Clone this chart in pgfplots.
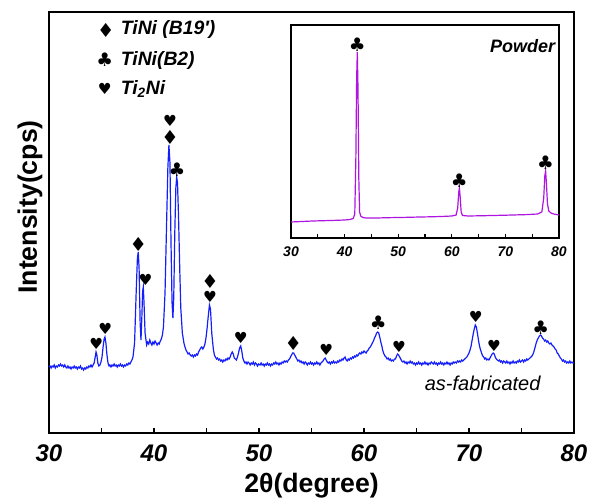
\documentclass[border=0pt]{standalone}
\usepackage{fontspec}
\setmainfont{Liberation Sans}
\newfontfamily\sym{DejaVu Sans}
\usepackage{pgfplots}
\pgfplotsset{compat=1.18}
\usetikzlibrary{calc}

\definecolor{xrdblue}{RGB}{20,30,250}
\definecolor{powder}{RGB}{175,20,225}
\newcommand\dia{{\sym\fontsize{14.5}{14.5}\selectfont ♦}}
\newcommand\clb{{\sym\fontsize{14}{14}\selectfont ♣}}
\newcommand\hrt{{\sym\fontsize{11.5}{11.5}\selectfont ♥}}
\tikzset{mk/.style={inner sep=0pt}}

\begin{document}
\begin{tikzpicture}
\begin{axis}[name=main, scale only axis, width=393.75pt, height=315.75pt,
    xmin=30, xmax=80, ymin=0, ymax=421,
    xtick={30,40,...,80}, minor xtick={35,45,...,75}, xtick pos=bottom,
    ytick=\empty, tick align=inside,
    major tick length=4pt, minor tick length=4pt,
    axis line style={line width=1.4pt}, tick style={line width=1pt, black},
    /pgf/number format/assume math mode=true,
    tick label style={font=\bfseries\itshape\fontsize{18}{18}\selectfont},
    xticklabel style={anchor=center, yshift=-15pt},
    xlabel={\textbf{2θ(degree)}}, ylabel={\textbf{Intensity(cps)}},
    label style={font=\bfseries\fontsize{20}{20}\selectfont},
    xlabel style={at={(axis description cs:0.5,-0.126)}, anchor=center},
    ylabel style={at={(axis description cs:-0.036,0.537)}, anchor=center},
    clip=false]
\addplot[xrdblue, line width=0.9pt] coordinates {
(30.0,66)(30.1,67)(30.2,65)(30.3,67)(30.4,66)(30.5,68)(30.6,65)(30.7,67)(30.8,66)(30.9,68)
(31.0,67)(31.1,69)(31.2,67)(31.3,68)(31.4,66)(31.5,68)(31.6,66)(31.7,65)(31.8,67)(31.9,65)
(32.0,66)(32.1,64)(32.2,66)(32.3,65)(32.4,67)(32.5,65)(32.6,66)(32.7,64)(32.8,66)(32.9,65)
(33.0,67)(33.1,64)(33.2,65)(33.3,63)(33.4,65)(33.5,64)(33.6,66)(33.7,65)(33.8,67)(33.9,66)
(34.0,68)(34.1,66)(34.2,68)(34.3,70)(34.4,76)(34.48,81)(34.56,78)(34.65,70)(34.75,67)(34.85,68)
(34.95,71)(35.05,76)(35.15,86)(35.25,94)(35.33,96)(35.42,90)(35.52,78)(35.62,70)(35.72,67)(35.8,68)
(35.9,66)(36.0,68)(36.1,67)(36.2,69)(36.3,67)(36.4,68)(36.5,66)(36.6,68)(36.7,67)(36.8,69)
(36.9,67)(37.0,68)(37.1,66)(37.2,68)(37.3,67)(37.4,69)(37.5,68)(37.6,70)(37.7,69)(37.8,71)
(37.9,73)(38.0,76)(38.15,90)(38.3,140)(38.42,175)(38.5,181)(38.58,165)(38.68,110)(38.76,93)(38.84,115)
(38.92,142)(38.98,146)(39.05,130)(39.15,100)(39.3,88)(39.4,91)(39.5,89)(39.6,93)(39.7,90)(39.8,88)
(39.9,91)(40.0,89)(40.1,92)(40.2,90)(40.3,88)(40.4,90)(40.5,89)(40.6,92)(40.7,94)(40.8,98)
(40.9,106)(41.05,140)(41.2,210)(41.32,265)(41.42,288)(41.52,270)(41.62,190)(41.72,130)(41.8,115)(41.88,135)
(41.98,200)(42.08,245)(42.16,256)(42.24,250)(42.34,215)(42.45,165)(42.55,125)(42.7,100)(42.85,90)(42.95,86)
(43.05,83)(43.15,81)(43.25,79)(43.35,80)(43.45,78)(43.55,77)(43.65,78)(43.75,76)(43.85,78)(43.95,77)
(44.05,79)(44.15,78)(44.25,81)(44.35,83)(44.45,85)(44.55,86)(44.65,84)(44.75,86)(44.85,89)(44.95,95)
(45.05,104)(45.15,115)(45.28,128)(45.38,124)(45.5,100)(45.65,84)(45.75,78)(45.85,76)(45.95,74)(46.05,75)
(46.15,73)(46.25,74)(46.35,72)(46.45,73)(46.55,71)(46.65,73)(46.75,72)(46.85,74)(46.95,73)(47.05,75)
(47.15,74)(47.25,76)(47.35,79)(47.45,81)(47.55,79)(47.65,75)(47.75,74)(47.85,73)(47.95,76)(48.05,80)
(48.15,85)(48.26,87)(48.36,82)(48.46,75)(48.56,72)(48.66,70)(48.76,71)(48.86,69)(48.96,71)(49.06,70)
(49.16,68)(49.26,70)(49.36,69)(49.46,71)(49.56,68)(49.66,70)(49.76,69)(49.86,67)(49.96,69)(50.1,68)
(50.2,70)(50.3,68)(50.4,69)(50.5,67)(50.6,69)(50.7,68)(50.8,70)(50.9,68)(51.0,69)(51.1,67)
(51.2,69)(51.3,68)(51.4,70)(51.5,69)(51.6,71)(51.7,69)(51.8,70)(51.9,68)(52.0,70)(52.1,69)
(52.2,71)(52.3,70)(52.4,72)(52.5,71)(52.6,72)(52.7,71)(52.8,73)(52.9,74)(53.0,76)(53.1,78)
(53.2,80)(53.3,80)(53.4,78)(53.5,76)(53.6,74)(53.7,72)(53.8,73)(53.9,71)(54.0,72)(54.1,70)
(54.2,71)(54.3,69)(54.4,71)(54.5,70)(54.6,68)(54.7,70)(54.8,69)(54.9,71)(55.0,69)(55.1,70)
(55.2,68)(55.3,70)(55.4,69)(55.5,71)(55.6,69)(55.7,70)(55.8,68)(55.9,70)(56.0,71)(56.1,72)
(56.2,74)(56.3,75)(56.4,73)(56.5,71)(56.6,70)(56.7,71)(56.8,69)(56.9,71)(57.0,70)(57.1,72)
(57.2,70)(57.3,71)(57.4,70)(57.5,72)(57.6,71)(57.7,73)(57.8,72)(57.9,74)(58.0,73)(58.1,75)
(58.2,76)(58.3,73)(58.4,72)(58.5,74)(58.6,73)(58.7,75)(58.8,74)(58.9,76)(59.0,75)(59.1,77)
(59.2,76)(59.3,78)(59.4,77)(59.5,79)(59.6,80)(59.7,79)(59.8,81)(59.9,80)(60.0,82)(60.1,81)
(60.2,80)(60.3,82)(60.4,83)(60.5,85)(60.6,86)(60.7,88)(60.8,90)(60.9,92)(61.0,95)(61.1,97)
(61.2,100)(61.3,101)(61.4,100)(61.5,96)(61.6,91)(61.7,87)(61.8,82)(61.9,79)(62.0,77)(62.1,76)
(62.2,74)(62.3,75)(62.4,73)(62.5,74)(62.6,72)(62.7,73)(62.8,72)(62.9,74)(63.0,74)(63.1,77)
(63.2,79)(63.3,78)(63.4,76)(63.5,74)(63.6,72)(63.7,71)(63.8,72)(63.9,70)(64.0,71)(64.1,69)
(64.2,71)(64.3,70)(64.4,72)(64.5,70)(64.6,71)(64.7,69)(64.8,70)(64.9,68)(65.0,70)(65.1,69)
(65.2,71)(65.3,69)(65.4,70)(65.5,68)(65.6,70)(65.7,69)(65.8,71)(65.9,69)(66.0,70)(66.1,68)
(66.2,70)(66.3,69)(66.4,71)(66.5,70)(66.6,69)(66.7,71)(66.8,69)(66.9,70)(67.0,68)(67.1,70)
(67.2,69)(67.3,71)(67.4,69)(67.5,70)(67.6,68)(67.7,70)(67.8,69)(67.9,71)(68.0,69)(68.1,70)
(68.2,68)(68.3,70)(68.4,69)(68.5,71)(68.6,70)(68.7,71)(68.8,70)(68.9,72)(69.0,71)(69.1,72)
(69.2,71)(69.3,73)(69.4,72)(69.5,73)(69.6,74)(69.7,75)(69.8,76)(69.9,78)(70.0,80)(70.1,83)
(70.2,87)(70.3,93)(70.4,99)(70.5,104)(70.6,108)(70.7,106)(70.8,100)(70.9,93)(71.0,87)(71.1,83)
(71.2,80)(71.3,77)(71.4,76)(71.5,74)(71.6,75)(71.7,73)(71.8,74)(71.9,73)(72.0,75)(72.1,77)
(72.2,79)(72.3,80)(72.4,79)(72.5,76)(72.6,74)(72.7,73)(72.8,72)(72.9,73)(73.0,71)(73.1,72)
(73.2,70)(73.3,72)(73.4,71)(73.5,70)(73.6,72)(73.7,70)(73.8,71)(73.9,69)(74.0,71)(74.1,70)
(74.2,72)(74.3,70)(74.4,71)(74.5,70)(74.6,72)(74.7,71)(74.8,73)(74.9,71)(75.0,72)(75.1,73)
(75.2,71)(75.3,73)(75.4,72)(75.5,74)(75.6,73)(75.7,74)(75.8,75)(75.9,76)(76.0,77)(76.1,79)
(76.2,82)(76.3,86)(76.4,90)(76.5,93)(76.6,95)(76.7,97)(76.8,98)(76.9,97)(77.0,95)(77.1,94)
(77.2,92)(77.3,93)(77.4,91)(77.5,92)(77.6,90)(77.7,89)(77.8,90)(77.9,88)(78.0,87)(78.1,86)
(78.2,84)(78.3,83)(78.4,80)(78.5,79)(78.6,77)(78.7,75)(78.8,74)(78.9,72)(79.0,73)(79.1,71)
(79.2,72)(79.3,70)(79.4,71)(79.5,70)(79.6,72)(79.7,70)(79.8,71)(79.9,70)(80.0,70)};
% phase labels
\node[mk] at (axis cs:34.5,89) {\hrt};
\node[mk] at (axis cs:35.36,104) {\hrt};
\node[mk] at (axis cs:38.5,189) {\dia};
\node[mk] at (axis cs:39.2,153) {\hrt};
\node[mk] at (axis cs:41.52,296) {\dia};
\node[mk] at (axis cs:41.52,312) {\hrt};
\node[mk] at (axis cs:42.2,263) {\clb};
\node[mk] at (axis cs:45.33,152) {\dia};
\node[mk] at (axis cs:45.33,136) {\hrt};
\node[mk] at (axis cs:48.26,95) {\hrt};
\node[mk] at (axis cs:53.27,90) {\dia};
\node[mk] at (axis cs:56.4,83) {\hrt};
\node[mk] at (axis cs:61.36,110) {\clb};
\node[mk] at (axis cs:63.33,86) {\hrt};
\node[mk] at (axis cs:70.64,116) {\hrt};
\node[mk] at (axis cs:72.38,87) {\hrt};
\node[mk] at (axis cs:76.83,105) {\clb};
\node[font=\itshape\fontsize{15}{15}\selectfont] at (axis cs:71.3,50) {as-fabricated};
% legend
\begin{scope}[font=\bfseries\itshape\fontsize{14.5}{15}\selectfont]
\node[mk] at (axis cs:35.4,403) {\dia};
\node[mk] at (axis cs:35.3,373) {\clb};
\node[mk] at (axis cs:35.3,344) {\hrt};
\node[anchor=west] at (axis cs:36.4,403) {TiNi (B19′)};
\node[anchor=west] at (axis cs:36.4,373) {TiNi(B2)};
\node[anchor=west] at (axis cs:36.4,344) {Ti\textsubscript{2}Ni};
\end{scope}
\end{axis}
\begin{axis}[at={($(main.south west)+(181.5pt,146.25pt)$)}, anchor=south west,
    scale only axis, width=201pt, height=159.75pt,
    axis background/.style={fill=white},
    xmin=30, xmax=80, ymin=0, ymax=213,
    xtick={30,40,...,80}, minor xtick={35,45,...,75}, xtick pos=bottom,
    ytick=\empty, tick align=inside,
    major tick length=3pt, minor tick length=3pt,
    axis line style={line width=1pt}, tick style={line width=0.8pt, black},
    /pgf/number format/assume math mode=true,
    tick label style={font=\bfseries\itshape\fontsize{10.5}{11}\selectfont},
    xticklabel style={anchor=center, yshift=-10.5pt},
    clip=false]
\addplot[powder, line width=0.9pt] coordinates {
(30,16)(32,16.5)(34,17)(36,17.3)(38,17.6)(40,18)(41,18.5)(41.6,19.5)(41.9,24)(42.1,80)
(42.25,160)(42.37,186)(42.5,150)(42.65,60)(42.8,26)(43,22)(43.4,20.5)(44,20)(46,20)(48,20.3)
(50,20.5)(52,20.7)(54,21)(56,21.2)(58,21.5)(60,22)(60.8,23)(61.1,30)(61.3,46)(61.42,50)
(61.55,42)(61.75,26)(62,22.5)(63,22)(66,22.3)(70,22.8)(74,23.4)(76,24)(76.8,26)(77.15,40)
(77.35,62)(77.5,67)(77.65,55)(77.85,34)(78.1,27)(78.5,25)(79,24)(80,23)};
\node[mk] at (axis cs:42.37,193) {\clb};
\node[mk] at (axis cs:61.4,57) {\clb};
\node[mk] at (axis cs:77.5,75) {\clb};
\node[font=\bfseries\itshape\fontsize{13.5}{14}\selectfont] at (axis cs:73.2,192) {Powder};
\end{axis}
\path ($(main.south west)+(-36.75pt,-47.25pt)$) rectangle ++(450pt,372pt);
\end{tikzpicture}
\end{document}
